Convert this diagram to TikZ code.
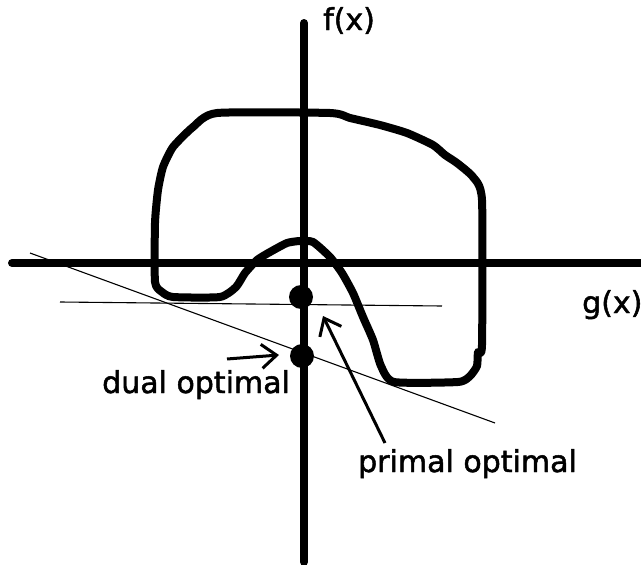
\documentclass[tikz,border=0pt]{standalone}
\usepackage{fontspec}
\setmainfont{DejaVu Sans}
\newfontfamily\labelfont[FakeBold=1.6]{DejaVu Sans}
\usetikzlibrary{arrows.meta}
\begin{document}
\begin{tikzpicture}[x=1pt,y=-1pt, every node/.style={font=\labelfont\fontsize{30}{36}\selectfont,inner sep=0pt},
  myaxis/.style={line width=8pt,line cap=round},
  myblob/.style={line width=8pt,line join=round},
  mythin/.style={line width=1.1pt},
  mydot/.style={circle,fill=black,minimum size=24pt},
  mylabel/.style={anchor=base west},
  myarrow/.style={line width=3pt,-{Straight Barb[length=15pt,width=24pt,line width=3pt]}}]
\useasboundingbox (0,0) rectangle (641,565);
% axes
\draw[myaxis] (12,263) -- (645,263);
\draw[myaxis] (304,23) -- (304,562);
% feasible region
\draw[myblob] plot[smooth cycle,tension=0.35] coordinates {(217,113) (330,113) (350,118) (380,125) (407,133) (433,145) (445,155) (457,163) (473,177) (482,200) (482,345) (478,352) (477,366) (470,376) (458,382) (394,382) (381,366) (373,340) (363,317) (353,293) (342,273) (330,257) (313,242) (300,241) (287,243) (270,252) (257,260) (245,273) (236,287) (220,297) (173,297) (162,292) (155,282) (155,223) (158,190) (163,167) (173,147) (193,127)};
% supporting lines
\draw[mythin] (60,302) -- (442,306);
\draw[mythin] (30,253) -- (495,423);
% optimal points
\node[mydot] (primalpt) at (301,297) {};
\node[mydot] (dualpt) at (302,356) {};
% labels
\node[mylabel] (flabel) at (323,30) {f(x)};
\node[mylabel] (glabel) at (582,313) {g(x)};
\node[mylabel] (dual) at (102,393) {dual optimal};
\node[mylabel] (primal) at (358,472) {primal optimal};
\coordinate (dualtail) at (227,359);
\coordinate (dualtip) at (279,355);
\coordinate (primaltail) at (385,443);
\coordinate (primaltip) at (323,316);
\draw[myarrow] (dualtail) -- (dualtip);
\draw[myarrow] (primaltail) -- (primaltip);
\end{tikzpicture}
\end{document}
